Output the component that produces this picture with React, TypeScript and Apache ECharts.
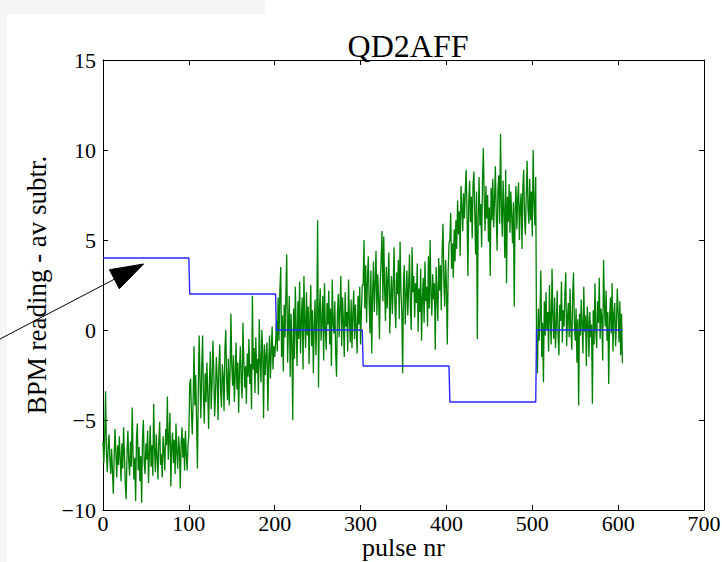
import React, { useEffect, useRef } from "react";
import * as echarts from "echarts";

// BPM readings (average subtracted), one value per pulse, split by setpoint block
const readings1 = [
  -6.2, -7.4, -6.0, -3.4, -6.8, -7.9, -6.5, -5.8, -7.2, -8.0,
  -6.6, -7.8, -9.1, -7.0, -5.5, -6.9, -8.2, -6.4, -7.5, -5.9,
  -7.1, -8.4, -6.3, -7.7, -5.4, -7.0, -8.6, -9.4, -6.8, -5.6,
  -7.3, -8.1, -6.2, -7.6, -4.3, -6.9, -8.3, -7.1, -9.5, -6.0,
  -5.2, -7.8, -6.5, -8.4, -7.0, -9.6, -6.1, -5.0, -7.4, -8.0,
  -6.3, -7.2, -5.6, -8.5, -6.8, -5.3, -7.6, -6.4, -8.1, -4.1,
  -6.6, -7.9, -5.8, -7.0, -8.3, -6.2, -5.1, -7.5, -6.9, -8.2,
  -5.9, -6.7, -7.8, -5.5, -6.4, -3.7, -7.2, -6.0, -4.6, -8.7,
  -6.5, -5.7, -7.4, -6.1, -8.0, -5.2, -6.8, -7.7, -5.9, -6.6,
  -8.8, -6.3, -5.4, -7.1, -6.0, -7.8, -5.6, -6.9, -7.8, -6.4,
  -5.8,
];
const readings2 = [
  -3.0, -2.7, -4.6, -5.8, -3.9, -0.9, -4.2, -2.5, -5.1, -7.7,
  -3.3, -0.3, -2.8, -4.9, -2.1, -0.3, -3.7, -5.2, -2.4, -4.0,
  -1.8, -3.5, -5.5, -2.9, -1.2, -4.4, -3.0, -0.6, -2.2, -4.8,
  -3.6, -1.5, -2.7, -5.0, -2.0, -0.8, -3.4, -4.3, -1.9, -2.6,
  -4.5, -1.1, 0.0, -2.8, -3.9, -1.6, -4.2, -2.3, 0.9, -2.0,
  -3.1, -1.4, -4.0, -2.5, -0.7, -3.3, -1.8, -4.6, -2.1, -0.9,
  -2.9, -3.8, 0.4, -1.7, -3.2, -2.0, -4.1, -1.3, -2.6, -0.5,
  -3.0, -1.9, -4.4, 1.9, -2.2, -1.0, -3.5, -0.4, -2.4, -1.6,
  -3.6, 0.6, -1.8, -2.9, 0.0, -1.2, -4.9, -0.8, -2.5, -1.4,
  -0.7, -4.5, -1.9, -0.3, -2.7, -1.1, 0.2, -2.2, -0.9, -1.5,
  -0.7,
];
const readings3 = [
  0.5, -1.2, 1.8, -0.6, 2.2, 3.5, -1.5, 0.8, -2.3, 1.4,
  -0.4, 2.0, 4.2, -1.8, 0.3, 1.9, -2.6, 0.9, -0.8, -5.0,
  1.2, -1.6, 2.4, 0.1, -2.0, 1.6, -0.5, 2.7, -1.3, 0.6,
  1.8, -2.2, 3.0, 0.4, -1.0, 2.1, -0.3, 1.3, -1.9, 0.7,
  2.5, -0.9, 1.1, -2.4, 0.2, 1.7, -1.4, 0.8, 6.1, -3.2,
  1.0, 2.3, -0.6, 0.5, 1.9, -1.7, 2.6, 0.0, -1.1, 1.5,
  0.3, 2.2, -0.8, 1.2, -2.0, 2.8, 0.4, -0.2, 1.6, -1.3,
  -2.6, 0.9, 2.0, -0.4, 1.3, 3.0, -0.9, 1.8, 0.5, -1.5,
  2.1, 0.2, 1.0, -1.2, 2.8, 0.6, -0.7, 1.7, -1.0, 0.9,
  2.2, -0.5, 1.4, 0.1, -1.3, 1.9, 0.3, 2.4, -0.8, 1.1,
  2.5,
];
const readings4 = [
  2.5, 5.0, 1.2, 3.6, 0.4, 2.8, 4.1, 1.5, -0.2, 3.3,
  -1.3, 2.0, 3.8, 1.0, 2.6, 4.4, 0.8, 3.1, 1.9, -0.5,
  2.7, 4.0, 5.5, 1.6, 5.2, 2.3, 0.5, 3.5, 1.2, 2.9,
  4.3, -0.2, 1.8, 3.0, 0.9, 2.4, 4.6, 1.4, 0.1, 3.2,
  2.0, 3.9, 0.6, 4.9, 2.2, 1.0, -2.4, 2.7, 3.6, 0.3,
  1.9, 3.3, 0.8, 2.5, 4.2, 1.3, 0.0, 4.6, 2.1, 3.0,
  0.7, 2.6, 1.5, 3.7, -0.1, 2.3, 1.0, 3.4, -0.6, 1.8,
  2.9, 0.4, 3.8, 1.6, 2.4, 0.2, 4.1, 1.2, 5.0, 2.0,
  0.8, 3.1, 1.7, 2.6, -1.1, 3.5, 1.9, 0.5, 4.0, 2.2,
  3.6, 1.1, 4.4, 5.9, 2.7, 1.3, 3.9, 2.4, -0.8, 3.2,
  4.8,
];
const readings5 = [
  5.0, 6.5, 3.4, 4.8, 2.9, 5.6, 3.8, 6.1, 4.5, 7.2,
  5.3, 6.6, 4.1, 8.0, 6.9, 5.5, 7.6, 6.2, 7.8, 8.9,
  6.4, 3.0, 7.1, 8.3, 6.0, 7.4, 5.1, 8.1, 8.8, 6.5,
  4.2, 7.7, -0.5, 6.3, 8.5, 5.8, 7.0, 4.6, 8.2, 10.1,
  7.3, 5.5, 8.0, 6.2, 7.5, 4.9, 6.8, 3.0, 7.9, 6.1,
  8.4, 5.7, 7.2, 9.1, 6.4, 4.4, 7.8, 8.6, 5.9, 10.9,
  7.0, 5.2, 8.3, 6.6, 4.0, 8.9, 2.6, 7.4, 6.0, 8.1,
  5.4, 7.7, 6.3, 4.8, 7.1, 1.3, 6.7, 8.0, 5.6, 7.3,
  8.2, 5.0, 6.9, 7.6, 4.5, 7.9, 8.9, 6.2, 5.3, 7.5,
  9.4, 6.8, 5.9, 8.4, 6.1, 7.7, 5.2, 10.0, 7.2, 5.8,
  8.5,
];
const readings6 = [
  -1.0, -2.4, 1.2, -0.6, 0.8, 3.3, -1.5, 0.4, -2.9, 1.6,
  -0.3, 2.1, 0.0, 1.0, -1.2, 2.5, 0.6, -0.8, 3.4, 0.9,
  -0.5, 1.8, -1.0, 0.3, 2.2, -0.2, -1.4, 1.4, 0.5, 2.7,
  -0.7, 1.1, 0.2, 2.0, 3.2, -0.9, 0.7, 1.5, -0.4, 2.3,
  0.1, -1.1, 1.9, 3.2, 0.4, -0.6, 1.2, -1.8, 0.6, -4.2,
  0.9, -0.3, 1.7, 0.2, -1.3, 2.4, -0.1, 0.8, -2.0, 1.3,
  0.5, -1.5, 1.0, -0.4, 0.3, -4.1, 1.1, -0.8, 2.6, 0.0,
  -1.0, 1.6, 0.4, 2.9, -0.5, 1.2, 0.7, -1.7, 3.9, 1.4,
  0.2, 2.2, -0.6, 1.0, -3.0, 0.5, 1.8, -0.2, 2.6, -1.2,
  0.8, 1.5, -0.9, 0.3, 2.3, 1.0, -0.7, 1.6, -1.4, 0.9,
  -1.85,
];

// Corrector setpoint steps: first pulse of each block and its level
const setpointStarts = [0, 101, 202, 303, 404, 505];
const setpointLevels = [4, 2, 0, -2, -4, 0];
const lastPulse = 605;

// Annotation arrow (data coordinates)
const arrowTail = [-120, -0.5];
const arrowTip = [47.3, 3.67];

const SERIF = "'Liberation Serif', 'DejaVu Serif', serif";

const fmt = (v: number) => (v < 0 ? "\u2212" + Math.abs(v) : String(v));

export default function App() {
  const ref = useRef<HTMLDivElement | null>(null);

  useEffect(() => {
    if (!ref.current) return;
    const chart = echarts.init(ref.current, null, { renderer: "svg" });

    const readings = [
      ...readings1,
      ...readings2,
      ...readings3,
      ...readings4,
      ...readings5,
      ...readings6,
    ];
    const bpm = readings.map((v, i) => [i, v]);

    const setpoint: number[][] = [];
    setpointStarts.forEach((s, k) => {
      const end = k + 1 < setpointStarts.length ? setpointStarts[k + 1] - 1 : lastPulse;
      setpoint.push([s, setpointLevels[k]]);
      setpoint.push([end, setpointLevels[k]]);
    });

    const axisLine = { onZero: false, lineStyle: { color: "#000", width: 1 } };
    const axisTick = { inside: true, length: 5, lineStyle: { color: "#000", width: 1 } };
    const labelStyle = { color: "#000", fontFamily: SERIF, fontSize: 22 };

    chart.setOption({
      animation: false,
      backgroundColor: "#fff",
      title: {
        text: "QD2AFF",
        left: 403,
        top: 25,
        textAlign: "center",
        textStyle: { fontFamily: SERIF, fontSize: 32, fontWeight: "normal", color: "#000" },
      },
      grid: { left: 103, right: 18, top: 60, bottom: 52, outerBoundsMode: "none" },
      xAxis: [
        {
          type: "value",
          min: 0,
          max: 700,
          interval: 100,
          position: "bottom",
          axisLine,
          axisTick,
          splitLine: { show: false },
          axisLabel: { ...labelStyle, margin: 2, formatter: fmt },
          name: "pulse nr",
          nameLocation: "middle",
          nameGap: 24,
          nameMoveOverlap: false,
          nameTextStyle: { fontFamily: SERIF, fontSize: 26, color: "#000" },
        },
        {
          type: "value",
          min: 0,
          max: 700,
          interval: 100,
          position: "top",
          axisLine,
          axisTick,
          splitLine: { show: false },
          axisLabel: { show: false },
        },
      ],
      yAxis: [
        {
          type: "value",
          min: -10,
          max: 15,
          interval: 5,
          position: "left",
          axisLine,
          axisTick,
          splitLine: { show: false },
          axisLabel: { ...labelStyle, margin: 7, formatter: fmt },
          name: "BPM reading - av subtr.",
          nameLocation: "middle",
          nameGap: 52,
          nameTextStyle: { fontFamily: SERIF, fontSize: 27, color: "#000" },
        },
        {
          type: "value",
          min: -10,
          max: 15,
          interval: 5,
          position: "right",
          axisLine,
          axisTick,
          splitLine: { show: false },
          axisLabel: { show: false },
        },
      ],
      series: [
        {
          type: "line",
          data: bpm,
          showSymbol: false,
          silent: true,
          lineStyle: { color: "#008000", width: 1.3 },
          z: 2,
        },
        {
          type: "line",
          data: setpoint,
          showSymbol: false,
          silent: true,
          lineStyle: { color: "#2a2aff", width: 1.4 },
          z: 3,
        },
      ],
    });

    // Arrow from the annotation tail to the setpoint level
    const S = chart.convertToPixel({ xAxisIndex: 0, yAxisIndex: 0 }, arrowTail) as number[];
    const T = chart.convertToPixel({ xAxisIndex: 0, yAxisIndex: 0 }, arrowTip) as number[];
    const dx = T[0] - S[0];
    const dy = T[1] - S[1];
    const len = Math.hypot(dx, dy);
    const ux = dx / len;
    const uy = dy / len;
    const headLen = 33;
    const headHalf = 10.7;
    const B = [T[0] - ux * headLen, T[1] - uy * headLen];
    const nx = -uy;
    const ny = ux;

    chart.setOption({
      graphic: [
        { type: "rect", shape: { x: 0, y: 0, width: 7, height: 562 }, style: { fill: "#f5f5f5" }, z: -1, silent: true },
        { type: "rect", shape: { x: 0, y: 0, width: 265, height: 14 }, style: { fill: "#f5f5f5" }, z: -1, silent: true },
        {
          type: "line",
          shape: { x1: S[0], y1: S[1], x2: B[0], y2: B[1] },
          style: { stroke: "#000", lineWidth: 1 },
          z: 10,
          silent: true,
        },
        {
          type: "polygon",
          shape: {
            points: [
              [T[0], T[1]],
              [B[0] + nx * headHalf, B[1] + ny * headHalf],
              [B[0] - nx * headHalf, B[1] - ny * headHalf],
            ],
          },
          style: { fill: "#000", stroke: "#000", lineWidth: 1 },
          z: 10,
          silent: true,
        },
      ],
    });

    return () => chart.dispose();
  }, []);

  return (
    <div
      ref={ref}
      style={{ position: "fixed", left: 0, top: 0, width: 722, height: 562 }}
    />
  );
}
